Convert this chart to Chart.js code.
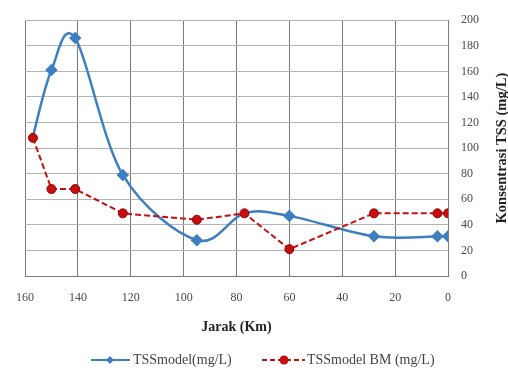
<!DOCTYPE html>
<html><head><meta charset="utf-8">
<script src="https://cdn.jsdelivr.net/npm/chart.js@4"></script>
<style>html,body{margin:0;padding:0;background:#fff}</style>
</head><body>
<canvas id="c" width="508" height="375"></canvas>
<script>
const distanceKm = [157, 150, 141, 123, 95, 77, 60, 28, 4, 0];
const tssModel   = [109, 161, 186, 79, 28, 49, 47, 31, 31, 31];
const tssModelBM = [108, 68, 68, 49, 44, 49, 21, 49, 49, 49];
const xTickValues = [0, 20, 40, 60, 80, 100, 120, 140, 160];
const yTickValues = [0, 20, 40, 60, 80, 100, 120, 140, 160, 180, 200];
const seriesNames = ['TSSmodel(mg/L)', 'TSSmodel BM (mg/L)'];
const xTitle = 'Jarak (Km)';
const yTitle = 'Konsentrasi TSS (mg/L)';

const BLUE = '#3d7fc1', RED = '#c41010';
const FONT = '"Liberation Serif", "Times New Roman", serif';

const pts = (vals) => distanceKm.map((d, i) => ({x: d, y: vals[i]}));

// Catmull-Rom style smoothing (like spreadsheet "smoothed line") applied to library-computed points
const smoothing = {
  id: 'smoothing',
  beforeDatasetDraw(chart, args) {
    const ds = chart.data.datasets[args.index];
    if (!ds.catmull) return;
    const meta = args.meta;
    meta.dataset.updateControlPoints(chart.chartArea, 'x');
    const p = meta.data;
    for (let i = 0; i < p.length; i++) {
      const prev = p[i - 1] || p[i], next = p[i + 1] || p[i];
      const dx = (next.x - prev.x) / 6, dy = (next.y - prev.y) / 6;
      p[i].cp1x = p[i].x - dx; p[i].cp1y = p[i].y - dy;
      p[i].cp2x = p[i].x + dx; p[i].cp2y = p[i].y + dy;
    }
    meta.dataset._path = undefined;
  }
};

const extras = {
  id: 'extras',
  afterDraw(chart) {
    const ctx = chart.ctx, a = chart.chartArea;
    ctx.save();
    ctx.fillStyle = '#222';
    ctx.font = 'bold 14.5px ' + FONT;
    ctx.textAlign = 'center'; ctx.textBaseline = 'middle';
    ctx.translate(502, (a.top + a.bottom) / 2);
    ctx.rotate(-Math.PI / 2);
    ctx.fillText(yTitle, 0, 0);
    ctx.restore();
    ctx.save();
    ctx.fillStyle = '#222';
    ctx.font = 'bold 14px ' + FONT;
    ctx.textAlign = 'center'; ctx.textBaseline = 'middle';
    ctx.fillText(xTitle, (a.left + a.right) / 2, 327);
    // legend
    const ly = 360;
    ctx.font = '14px ' + FONT;
    ctx.textAlign = 'left';
    ctx.strokeStyle = BLUE; ctx.lineWidth = 2;
    ctx.beginPath(); ctx.moveTo(91, ly); ctx.lineTo(130, ly); ctx.stroke();
    ctx.fillStyle = BLUE;
    ctx.beginPath(); ctx.moveTo(110, ly - 4); ctx.lineTo(114, ly); ctx.lineTo(110, ly + 4); ctx.lineTo(106, ly); ctx.closePath(); ctx.fill();
    ctx.fillStyle = '#444';
    ctx.fillText(seriesNames[0], 133, ly);
    ctx.strokeStyle = RED; ctx.lineWidth = 2; ctx.setLineDash([5, 3]);
    ctx.beginPath(); ctx.moveTo(262, ly); ctx.lineTo(305, ly); ctx.stroke();
    ctx.setLineDash([]);
    ctx.fillStyle = RED;
    ctx.beginPath(); ctx.arc(284, ly, 4.5, 0, Math.PI * 2); ctx.fill();
    ctx.fillStyle = '#444';
    ctx.fillText(seriesNames[1], 307, ly);
    ctx.restore();
  }
};

new Chart(document.getElementById('c'), {
  type: 'line',
  data: {
    datasets: [
      {
        label: seriesNames[1], data: pts(tssModelBM), order: 0,
        borderColor: RED, borderWidth: 2, borderDash: [6, 3],
        pointStyle: 'circle', pointRadius: 4.5, pointBackgroundColor: RED, pointBorderColor: '#9a0000', pointBorderWidth: 1,
        tension: 0
      },
      {
        label: seriesNames[0], data: pts(tssModel), order: 1, catmull: true,
        borderColor: BLUE, borderWidth: 2.5,
        pointStyle: 'rectRot', pointRadius: [0, 4.5, 4.5, 4.5, 4.5, 0, 4.5, 4.5, 4.5, 4.5],
        pointBackgroundColor: BLUE, pointBorderColor: BLUE,
        tension: 0.4, capBezierPoints: false
      }
    ]
  },
  options: {
    responsive: false, animation: false,
    layout: {padding: {left: 25, top: 17, right: 0, bottom: 0}},
    plugins: {legend: {display: false}, tooltip: {enabled: false}},
    scales: {
      x: {
        type: 'linear', reverse: true, min: 0, max: 160,
        afterBuildTicks: (s) => { s.ticks = xTickValues.map(v => ({value: v})); },
        afterFit: (s) => { s.height = 99; },
        grid: {color: '#7a7a7a', lineWidth: 1, drawTicks: false},
        border: {color: '#7a7a7a'},
        ticks: {padding: 15, color: '#4a4a4a', font: {family: FONT, size: 12}}
      },
      y: {
        position: 'right', min: 0, max: 200,
        afterBuildTicks: (s) => { s.ticks = yTickValues.map(v => ({value: v})); },
        afterFit: (s) => { s.width = 60; },
        grid: {color: '#b4b4b4', lineWidth: 1, drawTicks: false},
        border: {color: '#7a7a7a'},
        ticks: {padding: 13, color: '#4a4a4a', font: {family: FONT, size: 12}}
      }
    }
  },
  plugins: [smoothing, extras]
});
</script>
</body></html>
